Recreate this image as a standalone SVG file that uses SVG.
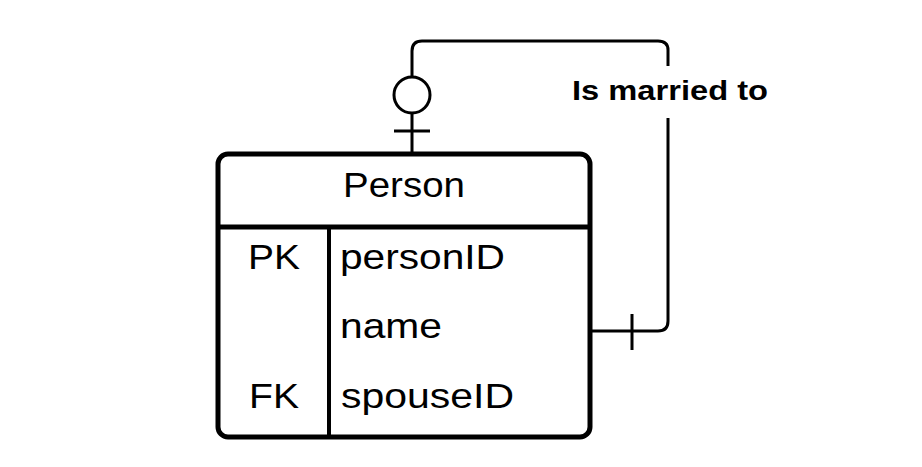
<svg xmlns="http://www.w3.org/2000/svg" width="922" height="467" viewBox="0 0 922 467">
<style>
.ln{fill:none;stroke:#000;stroke-width:3}
.t{font-family:"Liberation Sans",Arial,sans-serif;fill:#000;font-size:35px}
</style>
<rect width="922" height="467" fill="#fff"/>
<g id="connectors">
<path class="ln" d="M592,331 H658 Q668,331 668,321 V50 Q668,41 658,41 H422 Q412,41 412,51 V77"/>
<circle class="ln" cx="412" cy="95" r="18"/>
<path class="ln" d="M412,113 V153 M394,131 H430 M632,314 V350"/>
<rect x="566" y="66" width="206" height="52" fill="#fff"/>
<text class="t" x="572" y="100" style="font-size:27px;font-weight:bold" textLength="196" lengthAdjust="spacingAndGlyphs">Is married to</text>
</g>
<g id="person">
<rect x="218" y="154" width="372" height="283" rx="10" fill="#fff" stroke="#000" stroke-width="5"/>
<line x1="218" y1="227" x2="590" y2="227" stroke="#000" stroke-width="5"/>
<line x1="329" y1="227" x2="329" y2="437" stroke="#000" stroke-width="4"/>
<text class="t" x="343" y="197" textLength="122" lengthAdjust="spacingAndGlyphs">Person</text>
<text class="t" x="248" y="269" textLength="52" lengthAdjust="spacingAndGlyphs">PK</text>
<text class="t" x="340" y="269" textLength="165" lengthAdjust="spacingAndGlyphs">personID</text>
<text class="t" x="340" y="338" textLength="102" lengthAdjust="spacingAndGlyphs">name</text>
<text class="t" x="249" y="408" textLength="50" lengthAdjust="spacingAndGlyphs">FK</text>
<text class="t" x="341" y="408" textLength="173" lengthAdjust="spacingAndGlyphs">spouseID</text>
</g>
</svg>
